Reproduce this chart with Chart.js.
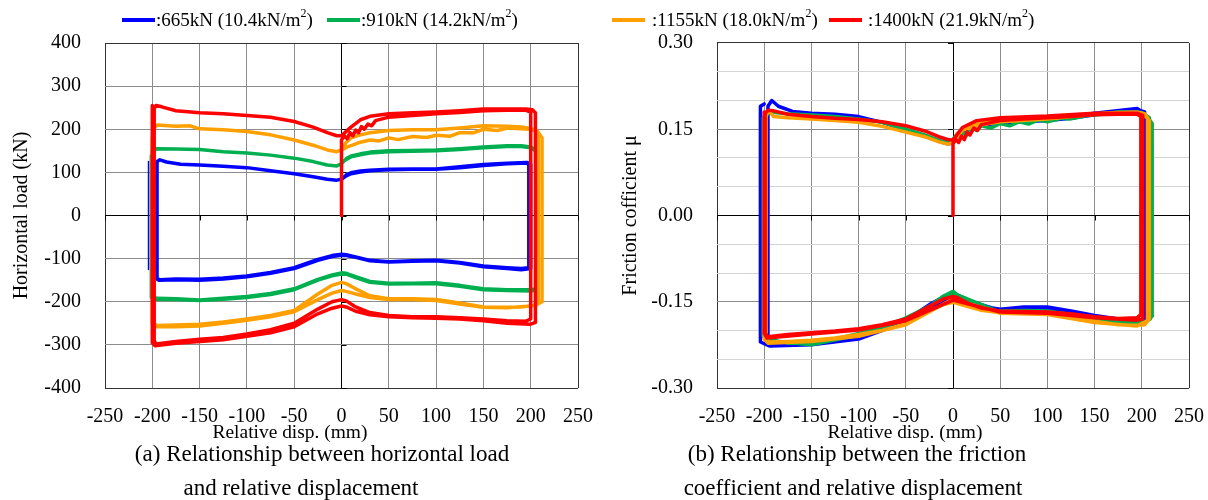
<!DOCTYPE html>
<html><head><meta charset="utf-8">
<script src="https://cdn.jsdelivr.net/npm/chart.js@4.4.1/dist/chart.umd.min.js"></script>
<style>
body{margin:0;width:1208px;height:500px;background:#fff;position:relative;overflow:hidden;font-family:"Liberation Serif","Times New Roman",serif;color:#000}
canvas{position:absolute;top:0}
#cA{left:0}
#cB{left:604px}
.lg{position:absolute;height:4px;top:18px}
.lt{position:absolute;top:8px;font-size:19px;line-height:24px;white-space:nowrap}
.lt sup{font-size:12px;vertical-align:9px;line-height:0}
.xt{position:absolute;width:300px;text-align:center;font-size:18px;line-height:20px;transform:scaleX(1.08)}
.cap{position:absolute;width:600px;text-align:center;font-size:23px;line-height:28px;white-space:nowrap}
</style></head><body>
<canvas id="cA" width="604" height="500"></canvas>
<canvas id="cB" width="604" height="500"></canvas>
<div id="legend"></div>
<div class="xt" style="left:140px;top:422px">Relative disp. (mm)</div>
<div class="xt" style="left:755px;top:422px">Relative disp. (mm)</div>
<div class="cap" style="left:22px;top:440px">(a) Relationship between horizontal load</div>
<div class="cap" style="left:1px;top:474px">and relative displacement</div>
<div class="cap" style="left:557px;top:440px">(b) Relationship between the friction</div>
<div class="cap" style="left:553px;top:474px">coefficient and relative displacement</div>
<script>
// ---- labels ----
const seriesNames = [":665kN (10.4kN/m", ":910kN (14.2kN/m", ":1155kN (18.0kN/m", ":1400kN (21.9kN/m"];
const seriesColors = ["#0000FF", "#00B050", "#FFA000", "#FF0000"];
const dispTicks = [-250, -200, -150, -100, -50, 0, 50, 100, 150, 200, 250];
const loadTicks = [-400, -300, -200, -100, 0, 100, 200, 300, 400];
const muTicks = [-0.30, -0.15, 0.00, 0.15, 0.30];

// ---- (a) horizontal load vs displacement ----
const disp665 = [0,5,10,20,30,50,75,100,125,150,175,196,198,198,190,175,150,125,100,75,50,30,15,5,0,-10,-25,-50,-75,-100,-125,-150,-175,-192,-195,-195,-192,-185,-170,-150,-125,-100,-75,-50,-30,-15,-5,0,
 5,10,20,30,50,75,100,125,150,175,196,200,200,190,175,150,125,100,75,50,30,15,5,0,-10,-25,-50,-75,-100,-125,-150,-175,-193,-196,-196];
const load665 = [84,92,97,101,104,106,107,107,111,116,120,122,118,-121,-123,-121,-117,-109,-104,-105,-107,-104,-96,-91,-90,-93,-102,-121,-132,-140,-145,-148,-147,-149,-146,125,129,124,119,117,114,111,104,97,90,84,82,84,
 94,99,103,105,107,108,108,113,118,121,123,119,-123,-126,-123,-119,-110,-105,-106,-108,-105,-97,-93,-92,-95,-104,-123,-134,-142,-147,-150,-149,-150,-146,120];
// thin first-stroke line on the left edge (665kN)
const disp665b = [-204,-204];
const load665b = [-125,125];

const disp910 = [0,5,10,20,30,50,75,100,125,150,175,190,200,205,206,206,200,175,150,125,100,75,50,30,15,5,0,-10,-25,-50,-75,-100,-125,-150,-175,-195,-200,-200,-195,-175,-150,-125,-100,-75,-50,-30,-15,-5,0,
 5,10,20,30,50,75,100,125,150,175,190,200,207,208,208,200,175,150,125,100,75,50,30,15,5,0,-10,-25,-50,-75,-100,-125,-150,-175,-196,-201,-201];
const load910 = [122,130,136,141,145,148,149,150,153,157,160,160,157,150,140,-170,-172,-172,-170,-162,-156,-157,-157,-153,-142,-134,-133,-138,-148,-170,-181,-188,-192,-196,-193,-192,-188,150,155,154,153,148,145,140,133,125,117,115,120,
 132,138,143,147,150,151,152,155,159,162,162,159,150,140,-172,-175,-174,-172,-164,-158,-158,-159,-155,-144,-136,-136,-140,-150,-172,-183,-190,-194,-197,-195,-194,-190,140];

const disp1155 = [0,5,10,20,30,50,75,100,125,150,175,190,200,207,212,212,205,190,175,150,125,100,75,50,30,15,5,0,-10,-25,-50,-75,-100,-125,-150,-175,-195,-199,-199,-195,-175,-160,-150,-125,-100,-75,-50,-30,-15,-5,0,
 5,10,20,30,40,50,60,75,90,100,115,125,140,150,165,175,190,200,205,208,208,200,175,150,125,100,75,50,30,15,5,0,-10,-25,-50,-75,-100,-125,-150,-175,-196,-200,-200];
const load1155 = [150,170,180,187,192,197,199,199,203,208,207,205,202,196,180,-200,-208,-212,-213,-212,-203,-195,-193,-193,-186,-170,-158,-155,-162,-182,-220,-232,-240,-247,-252,-254,-255,-250,200,210,207,208,201,199,195,187,175,163,152,148,152,
 158,162,170,175,173,180,176,183,181,186,184,192,192,200,197,203,201,200,196,185,-205,-210,-214,-213,-205,-197,-195,-195,-190,-182,-176,-174,-180,-195,-223,-235,-243,-250,-256,-258,-258,-252,180];

const disp1400 = [0,0,3,6,9,12,15,18,21,24,28,32,36,50,75,100,125,150,175,195,200,200,195,175,150,125,100,75,50,30,15,5,0,-10,-25,-50,-75,-100,-125,-150,-175,-196,-198,-198,-196,-190,-175,-150,-125,-100,-75,-50,-30,-15,-5,0,
 5,10,20,30,50,75,100,125,150,175,195,202,205,205,200,175,150,125,100,75,50,30,15,5,0,-10,-25,-50,-75,-100,-125,-150,-175,-197,-200,-200];
const load1400 = [0,175,185,178,192,185,198,192,206,200,212,208,220,228,232,236,239,243,244,244,240,-240,-245,-244,-240,-237,-235,-235,-232,-225,-212,-198,-195,-200,-217,-250,-265,-275,-283,-287,-292,-298,-290,248,255,252,243,238,236,232,228,218,205,192,185,185,
 195,205,222,230,236,238,240,243,247,247,247,245,238,-248,-252,-250,-244,-240,-238,-237,-235,-230,-222,-212,-210,-215,-228,-258,-272,-280,-288,-292,-296,-302,-295,255];

// ---- (b) friction coefficient vs displacement ----
const muDisp665 = [0,5,10,20,30,50,75,100,125,150,175,195,203,203,195,175,150,125,100,75,50,30,15,5,0,-10,-25,-50,-75,-100,-125,-150,-175,-193,-196,-196,-192,-185,-170,-150,-125,-100,-75,-50,-30,-15,-5,0,
 10,30,50,100,150,195,201,201,190,150,100,50,0,-50,-100,-150,-194,-204,-204,-200];
const mu665 = [0.127,0.138,0.146,0.152,0.157,0.161,0.163,0.165,0.169,0.175,0.181,0.184,0.18,-0.18,-0.182,-0.18,-0.174,-0.166,-0.159,-0.159,-0.163,-0.158,-0.146,-0.139,-0.137,-0.142,-0.155,-0.182,-0.2,-0.212,-0.219,-0.222,-0.222,-0.225,-0.22,0.19,0.2,0.19,0.181,0.178,0.176,0.172,0.162,0.149,0.138,0.129,0.124,0.127,
 0.15,0.16,0.163,0.167,0.178,0.186,0.18,-0.182,-0.184,-0.176,-0.161,-0.165,-0.14,-0.185,-0.215,-0.225,-0.227,-0.22,0.19,0.194];

const muDisp910 = [0,5,10,20,30,50,75,100,125,150,175,195,205,211,211,205,190,175,150,125,100,75,50,30,15,5,0,-10,-25,-50,-75,-100,-125,-150,-175,-195,-199,-199,-195,-175,-150,-125,-100,-75,-50,-30,-15,-5,0,
 5,10,15,20,25,30,40,50,60,70,80,90,100,115,125,150,175,200,208,209,200,150,100,50,0,-50,-100,-150,-197,-201,-201];
const mu910 = [0.133,0.143,0.15,0.155,0.159,0.163,0.165,0.167,0.171,0.175,0.178,0.178,0.174,0.16,-0.175,-0.184,-0.187,-0.186,-0.18,-0.172,-0.166,-0.165,-0.166,-0.162,-0.15,-0.138,-0.132,-0.14,-0.158,-0.178,-0.195,-0.205,-0.215,-0.222,-0.222,-0.215,-0.21,0.17,0.18,0.177,0.175,0.172,0.168,0.162,0.15,0.14,0.131,0.127,0.13,
 0.138,0.143,0.14,0.152,0.148,0.156,0.152,0.16,0.156,0.163,0.159,0.166,0.163,0.169,0.168,0.176,0.18,0.179,0.17,-0.18,-0.188,-0.182,-0.168,-0.168,-0.135,-0.18,-0.208,-0.225,-0.218,-0.21,0.17];

const muDisp1155 = [0,5,10,20,30,50,75,100,125,150,175,195,203,208,208,203,190,175,150,125,100,75,50,30,15,5,0,-10,-25,-50,-75,-100,-125,-150,-175,-195,-198,-198,-195,-190,-175,-150,-125,-100,-75,-50,-30,-15,-5,0,
 10,30,50,100,150,195,206,206,195,150,100,50,0,-50,-100,-150,-196,-200,-200];
const mu1155 = [0.13,0.143,0.15,0.157,0.162,0.167,0.169,0.171,0.174,0.177,0.179,0.18,0.177,0.165,-0.18,-0.19,-0.191,-0.19,-0.184,-0.176,-0.17,-0.169,-0.169,-0.165,-0.158,-0.153,-0.151,-0.155,-0.165,-0.188,-0.2,-0.207,-0.213,-0.217,-0.219,-0.22,-0.215,0.175,0.182,0.172,0.17,0.168,0.165,0.162,0.155,0.145,0.137,0.128,0.124,0.128,
 0.148,0.158,0.163,0.168,0.176,0.179,0.17,-0.183,-0.192,-0.186,-0.172,-0.17,-0.145,-0.19,-0.21,-0.219,-0.222,-0.215,0.17];

const muDisp1400 = [0,0,3,6,9,12,15,18,22,26,30,50,75,100,125,150,175,195,199,199,195,175,150,125,100,75,50,30,15,5,0,-10,-25,-50,-75,-100,-125,-150,-175,-196,-199,-199,-196,-190,-175,-150,-125,-100,-75,-50,-30,-15,-5,0,
 10,25,50,100,150,195,201,201,195,150,100,50,0,-50,-100,-150,-197,-200,-200];
const mu1400 = [0,0.125,0.132,0.127,0.138,0.132,0.145,0.14,0.152,0.148,0.158,0.165,0.168,0.17,0.172,0.175,0.176,0.176,0.172,-0.172,-0.178,-0.179,-0.176,-0.171,-0.168,-0.167,-0.166,-0.161,-0.152,-0.143,-0.141,-0.145,-0.158,-0.18,-0.19,-0.197,-0.201,-0.204,-0.207,-0.211,-0.205,0.178,0.183,0.182,0.176,0.172,0.169,0.167,0.163,0.156,0.147,0.137,0.132,0.131,
 0.153,0.165,0.17,0.173,0.178,0.178,0.174,-0.18,-0.182,-0.178,-0.17,-0.168,-0.147,-0.183,-0.199,-0.206,-0.213,-0.205,0.18];

// ---- legend (HTML) ----
const legendPos = [[122,156],[327,361],[612,652],[829,868]];
const lgEl = document.getElementById('legend');
seriesNames.forEach((n,i)=>{
  const l = document.createElement('div'); l.className='lg';
  l.style.left = legendPos[i][0]+'px'; l.style.width='33px'; l.style.background=seriesColors[i];
  lgEl.appendChild(l);
  const t = document.createElement('div'); t.className='lt';
  t.style.left = legendPos[i][1]+'px'; t.innerHTML = n + '<sup>2</sup>)';
  lgEl.appendChild(t);
});

const FONT = "'Liberation Serif','Times New Roman',serif";
function toPts(xs, ys){ return xs.map((x,i)=>({x:x, y:ys[i]})); }
// later series (higher load) are drawn on top: lower `order` = drawn last
function ds(xs, ys, i, w, ord){
  return {label: seriesNames[i], data: toPts(xs, ys), showLine:true, borderColor: seriesColors[i],
    backgroundColor: seriesColors[i], borderWidth: w || 3.5, pointRadius:0, tension:0, fill:false,
    borderJoinStyle:'round', borderCapStyle:'round', order: ord !== undefined ? ord : 3 - i};
}
const zeroTicks = {
  id:'zeroTicks',
  beforeDatasetsDraw(chart, args, opts){
    const {ctx, scales:{x, y}} = chart;
    const x0 = x.getPixelForValue(0), y0 = y.getPixelForValue(0);
    ctx.save(); ctx.strokeStyle='#000'; ctx.lineWidth=1;
    x.ticks.forEach(t=>{ const px = Math.round(x.getPixelForValue(t.value))+0.5;
      ctx.beginPath(); ctx.moveTo(px, y0); ctx.lineTo(px, y0+5); ctx.stroke(); });
    y.ticks.forEach(t=>{ if (t.label === '') return; const py = Math.round(y.getPixelForValue(t.value))+0.5;
      ctx.beginPath(); ctx.moveTo(x0, py); ctx.lineTo(x0 + opts.dir*5, py); ctx.stroke(); });
    ctx.restore();
  }
};
function xScale(){
  return {type:'linear', min:-250, max:250,
    afterBuildTicks: s => { s.ticks = dispTicks.map(v=>({value:v})); },
    ticks:{color:'#000', padding:3, font:{family:FONT, size:20}},
    grid:{drawTicks:true, tickLength:14, tickColor:'rgba(0,0,0,0)', lineWidth:1,
      color: c => c.tick.value===0 ? '#000' : (Math.abs(c.tick.value)===250 ? '#333' : '#8c8c8c')},
    border:{display:false},
    afterFit: s => { s.height = 112; }};
}

new Chart(document.getElementById('cA'), {
  type:'scatter',
  data:{datasets:[ds(disp665b,load665b,0,1.5,4), ds(disp665,load665,0), ds(disp910,load910,1), ds(disp1155,load1155,2), ds(disp1400,load1400,3)]},
  plugins:[zeroTicks],
  options:{
    responsive:false, animation:false, events:[],
    layout:{padding:{left:0, top:43, right:26, bottom:0}},
    plugins:{legend:{display:false}, tooltip:{enabled:false}, zeroTicks:{dir:1}},
    scales:{
      x: xScale(),
      y:{type:'linear', min:-400, max:400,
        afterBuildTicks: s => { s.ticks = loadTicks.map(v=>({value:v})); },
        ticks:{color:'#000', padding:3, font:{family:FONT, size:20}},
        grid:{drawTicks:true, tickLength:21, tickColor:'rgba(0,0,0,0)', lineWidth:1,
          color: c => c.tick.value===0 ? '#000' : (Math.abs(c.tick.value)===400 ? '#333' : '#8c8c8c')},
        border:{display:false},
        title:{display:true, text:'Horizontal load (kN)', color:'#000', font:{family:FONT, size:20}, padding:{top:10, bottom:0}},
        afterFit: s => { s.width = 105; }}
    }
  }
});

const muGrid = [];
for (let k=-6;k<=6;k++) muGrid.push(k*0.05);
new Chart(document.getElementById('cB'), {
  type:'scatter',
  data:{datasets:[ds(muDisp665,mu665,0), ds(muDisp910,mu910,1), ds(muDisp1155,mu1155,2), ds(muDisp1400,mu1400,3)]},
  plugins:[zeroTicks],
  options:{
    responsive:false, animation:false, events:[],
    layout:{padding:{left:0, top:43, right:19, bottom:0}},
    plugins:{legend:{display:false}, tooltip:{enabled:false}, zeroTicks:{dir:-1}},
    scales:{
      x: xScale(),
      y:{type:'linear', min:-0.3, max:0.3,
        afterBuildTicks: s => { s.ticks = muGrid.map(v=>({value:v})); },
        ticks:{color:'#000', padding:3, font:{family:FONT, size:20},
          callback: v => { const m = muTicks.find(t => Math.abs(t - v) < 1e-6); return m === undefined ? '' : m.toFixed(2); }},
        grid:{drawTicks:true, tickLength:21, tickColor:'rgba(0,0,0,0)', lineWidth:1, color: c => {
          const k = Math.round(c.tick.value*100);
          if (k===0) return '#000';
          if (Math.abs(k)===30) return '#333';
          return (k % 15 === 0) ? '#8c8c8c' : '#d4d4d4'; }},
        border:{display:false},
        title:{display:true, text:'Friction cofficient μ', color:'#000', font:{family:FONT, size:20}, padding:{top:15, bottom:0}},
        afterFit: s => { s.width = 113; }}
    }
  }
});
</script>
</body></html>
